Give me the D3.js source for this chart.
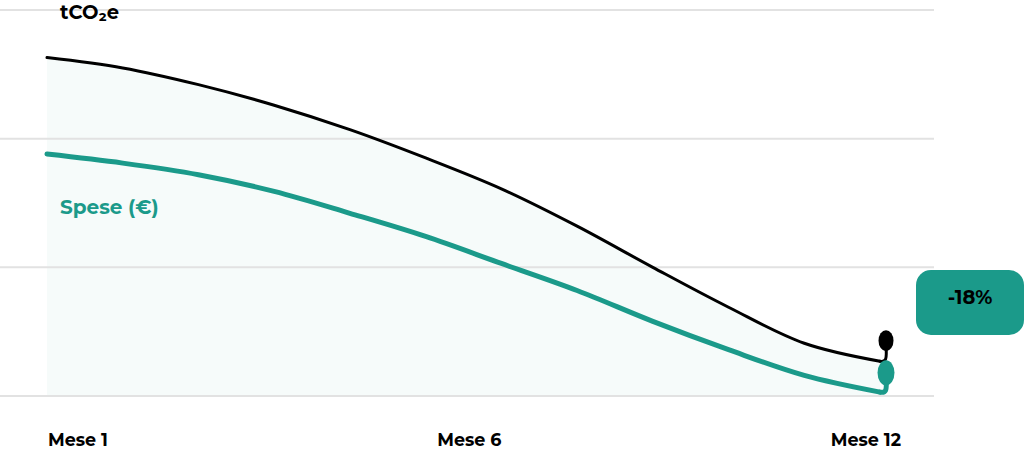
<!DOCTYPE html>
<html>
<head>
<meta charset="utf-8">
<script src="https://cdn.jsdelivr.net/npm/d3@7"></script>
<style>
	html, body { margin: 0; padding: 0; background: #fff; }
	svg { display: block; font-family: "Montserrat", "Inter", "Open Sans", sans-serif; font-weight: 700; }
</style>
</head>
<body>
<svg id="chart" width="1026" height="464"></svg>
<script>
var months = [1, 2, 3, 4, 5, 6, 7, 8, 9, 10, 11, 12];
var tickLabels = ["Mese 1", "Mese 6", "Mese 12"];
var gridValues = [0, 100, 200, 300];

// tCO2e
var co2Values = [263, 255, 242, 226, 207, 185, 161, 132, 100, 69, 41, 27];
// Spese (€)
var spesaValues = [188, 181, 172, 159, 142, 124, 103, 82, 58, 36, 16, 3];

// end markers (the little dots at month 12)
var co2End = 43;
var spesaEnd = 18;
var badgeText = "-18%";

var teal = "#1b9a8a";

var svg = d3.select("#chart");

var x = d3.scaleLinear().domain([1, 12]).range([47, 880]);
var y = d3.scaleLinear().domain([0, 300]).range([396, 10]);

var co2Data = months.map(function(m, i) { return { m: m, v: co2Values[i] }; });
var spesaData = months.map(function(m, i) { return { m: m, v: spesaValues[i] }; });

// light area under the black line
var area = d3.area()
	.x(function(d) { return x(d.m); })
	.y0(y(0))
	.y1(function(d) { return y(d.v); })
	.curve(d3.curveCatmullRom);

svg.append("path")
	.datum(co2Data)
	.attr("d", area)
	.attr("fill", "#f6fbfa");

// grid
svg.selectAll(".grid")
	.data(gridValues)
	.enter()
	.append("line")
	.attr("class", "grid")
	.attr("x1", 0)
	.attr("x2", 934)
	.attr("y1", function(d) { return y(d); })
	.attr("y2", function(d) { return y(d); })
	.attr("stroke", "#e2e2e2")
	.attr("stroke-width", 2);

var line = d3.line()
	.x(function(d) { return x(d.m); })
	.y(function(d) { return y(d.v); })
	.curve(d3.curveCatmullRom);

function drawSeries(data, endValue, color, width, rx, ry) {
	var last = data[data.length - 1];
	var lx = x(last.m), ly = y(last.v);
	var dx = lx + 6, dy = y(endValue);

	svg.append("path")
		.datum(data)
		.attr("d", line)
		.attr("fill", "none")
		.attr("stroke", color)
		.attr("stroke-width", width)
		.attr("stroke-linecap", "round");

	// curl up into the dot
	var hook = d3.path();
	hook.moveTo(lx, ly);
	hook.bezierCurveTo(lx + 6, ly + 1, dx + 1, ly - 2, dx, dy + ry * 0.5);
	svg.append("path")
		.attr("d", hook.toString())
		.attr("fill", "none")
		.attr("stroke", color)
		.attr("stroke-width", width)
		.attr("stroke-linecap", "round");

	svg.append("ellipse")
		.attr("cx", dx)
		.attr("cy", dy)
		.attr("rx", rx)
		.attr("ry", ry)
		.attr("fill", color);
}

drawSeries(co2Data, co2End, "#000", 3, 7.5, 10.5);
drawSeries(spesaData, spesaEnd, teal, 5, 8.5, 12.5);

// series titles
var co2Title = svg.append("text")
	.attr("x", 60)
	.attr("y", 19)
	.attr("font-size", 19.5)
	.attr("fill", "#000");
co2Title.append("tspan").text("tCO");
co2Title.append("tspan").text("₂");
co2Title.append("tspan").text("e");

svg.append("text")
	.attr("x", 60)
	.attr("y", 214)
	.attr("font-size", 20)
	.attr("fill", teal)
	.text("Spese (€)");

// x labels, spread like a space-between row from 48 to 901
var labels = svg.selectAll(".xlabel")
	.data(tickLabels)
	.enter()
	.append("text")
	.attr("class", "xlabel")
	.attr("y", 446)
	.attr("font-size", 17.5)
	.attr("fill", "#000")
	.text(function(d) { return d; });

var widths = [];
labels.each(function() { widths.push(this.getComputedTextLength()); });
var rowLeft = 48, rowRight = 901;
var gap = (rowRight - rowLeft - d3.sum(widths)) / (tickLabels.length - 1);
labels.attr("x", function(d, i) { return rowLeft + d3.sum(widths.slice(0, i)) + gap * i; });

// badge
var badge = svg.append("g").attr("transform", "translate(916,270)");
badge.append("rect")
	.attr("width", 108)
	.attr("height", 65)
	.attr("rx", 15)
	.attr("fill", teal);
badge.append("text")
	.attr("x", 54)
	.attr("y", 34)
	.attr("text-anchor", "middle")
	.attr("font-size", 19.5)
	.attr("fill", "#000")
	.text(badgeText);
</script>
</body>
</html>
